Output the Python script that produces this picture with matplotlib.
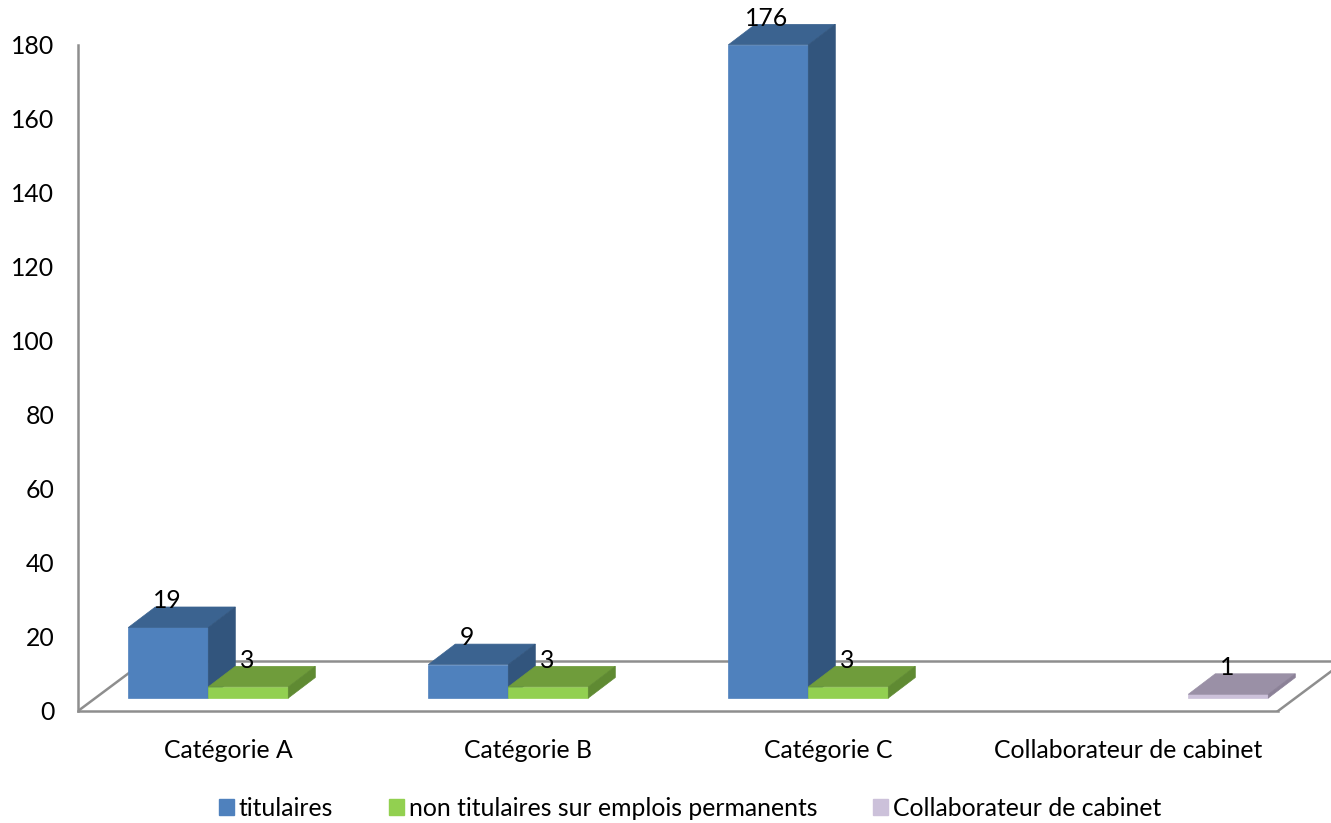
import matplotlib
matplotlib.use('Agg')
import matplotlib.pyplot as plt
from matplotlib.patches import Patch

plt.rcParams['font.family'] = ['Lato', 'DejaVu Sans']

categories = ['Catégorie A', 'Catégorie B', 'Catégorie C', 'Collaborateur de cabinet']
titulaires = [19, 9, 176, 0]
non_titulaires = [3, 3, 3, 0]
collaborateurs = [0, 0, 0, 1]
y_ticks = [0, 20, 40, 60, 80, 100, 120, 140, 160, 180]

series_names = ['titulaires', 'non titulaires sur emplois permanents', 'Collaborateur de cabinet']
series_values = [titulaires, non_titulaires, collaborateurs]
# front, top, side
series_colors = [('#4F81BD', '#3B6390', '#32557D'),
                 ('#92D050', '#6F9C3B', '#5F8A32'),
                 ('#CCC1DA', '#9A90A6', '#8B8197')]

W, H = 1331, 823
PX_X = 300.0   # pixels per category
PX_Y = 3.7     # pixels per unit
GREY = '#8E8E8E'
FONT = 17.8

bar_w = 80 / PX_X
dx, dy = 27 / PX_X, 20.5 / PX_Y       # depth of a bar
base = 13 / PX_Y                      # bars stand a bit behind the front edge
floor_dx, floor_dy = 67 / PX_X, 50 / PX_Y

fig = plt.figure(figsize=(W / 100, H / 100), dpi=100)
ax = fig.add_axes([78 / W, (H - 711) / H, (W - 78) / W, 711 / H])
ax.set_xlim(-0.5, -0.5 + (W - 78) / PX_X)
ax.set_ylim(0, 711 / PX_Y)

for s in ['top', 'right']:
    ax.spines[s].set_visible(False)
for s in ['left', 'bottom']:
    ax.spines[s].set_color(GREY)
    ax.spines[s].set_linewidth(1.8)
ax.spines['left'].set_bounds(0, 180)
ax.spines['bottom'].set_bounds(-0.5, 3.5)

# floor: side edges and back edge
ax.plot([-0.5, -0.5 + floor_dx], [0, floor_dy], color=GREY, lw=1.8, zorder=1)
ax.plot([3.5, 3.5 + floor_dx], [0, floor_dy], color=GREY, lw=1.8, zorder=1, clip_on=True)
ax.plot([-0.5 + floor_dx, 3.5 + floor_dx], [floor_dy, floor_dy], color=GREY, lw=1.8, zorder=1)

def draw_bar(x, v, colors, z):
    front, top, side = colors
    y0 = base
    y1 = base + v * 1.003
    ax.fill([x, x + bar_w, x + bar_w, x], [y0, y0, y1, y1], color=front, lw=0.5, zorder=z)
    ax.fill([x, x + bar_w, x + bar_w + dx, x + dx], [y1, y1, y1 + dy, y1 + dy], color=top, lw=0.5, zorder=z)
    ax.fill([x + bar_w, x + bar_w + dx, x + bar_w + dx, x + bar_w],
            [y0, y0 + dy, y1 + dy, y1], color=side, lw=0.5, zorder=z)
    ax.annotate(str(v), (x + bar_w / 2, y1 + dy), xytext=(-1, 4.5), textcoords='offset points',
                ha='center', va='center', fontsize=FONT, color='black', zorder=20)

for i in range(len(categories)):
    for j, values in enumerate(series_values):
        if values[i] > 0:
            draw_bar(i + (-99.7 + 80 * j) / PX_X, values[i], series_colors[j], 2 + i * 3 + j)

ax.set_yticks(y_ticks)
ax.set_xticks(range(len(categories)))
ax.set_xticklabels(categories)
ax.tick_params(axis='both', length=0, labelsize=FONT)
ax.tick_params(axis='y', pad=17)
ax.tick_params(axis='x', pad=20)

handles = [Patch(color=c[0]) for c in series_colors]
fig.legend(handles, series_names, ncol=3, loc='center', bbox_to_anchor=(690 / W, (H - 808) / H),
           frameon=False, fontsize=FONT, handlelength=0.61, handleheight=0.61,
           handletextpad=0.2, columnspacing=2.25)

fig.savefig('out.png', dpi=100)
